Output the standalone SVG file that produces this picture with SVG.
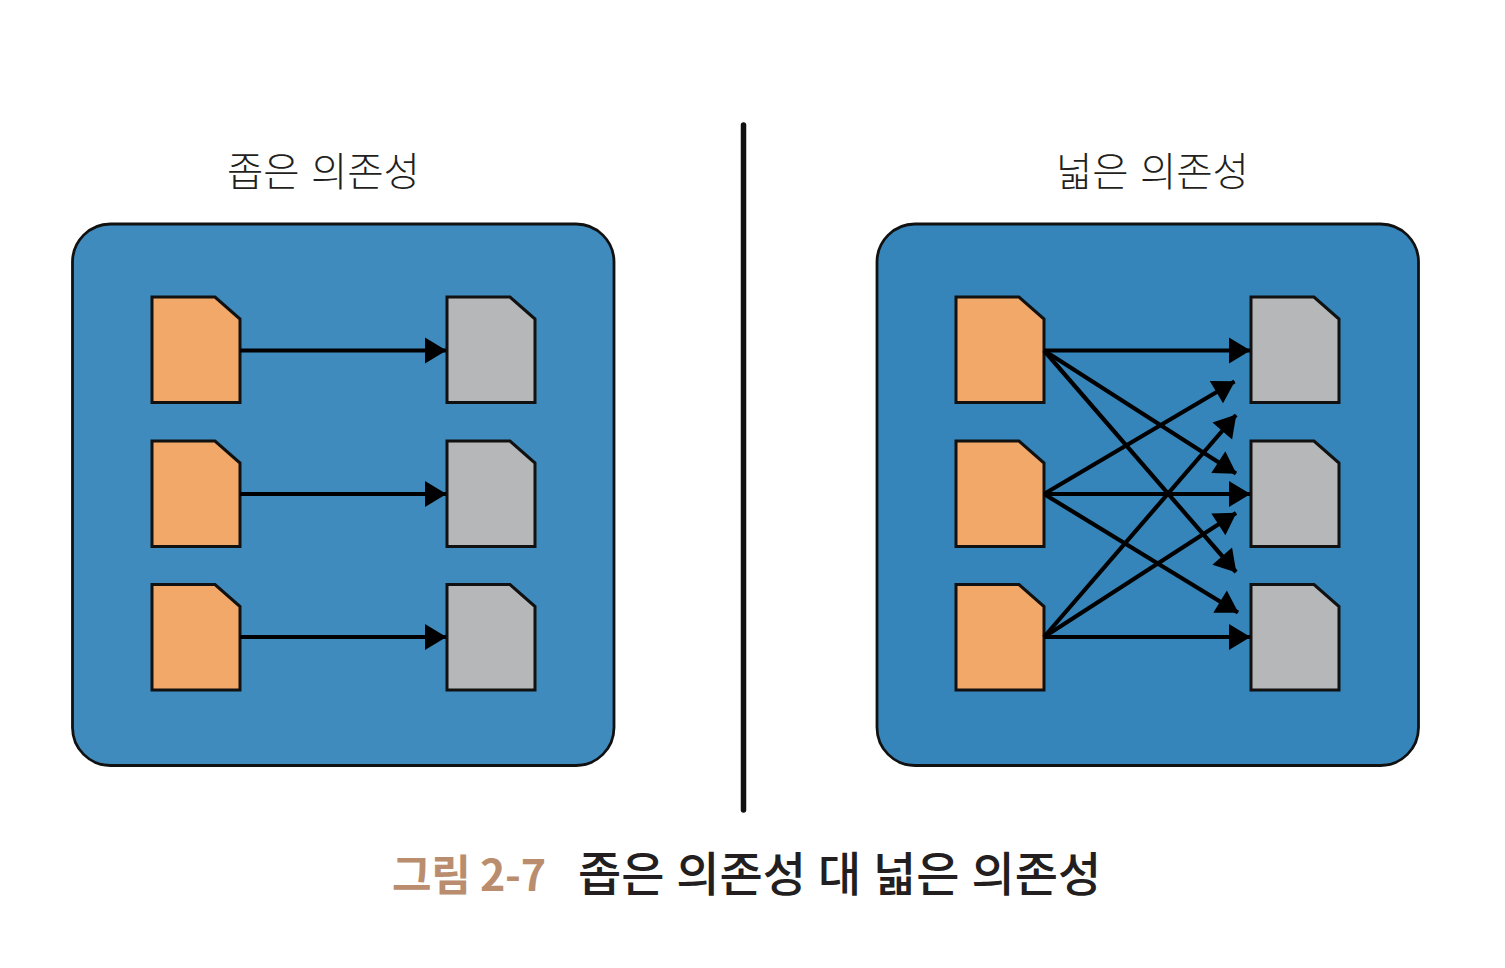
<svg xmlns="http://www.w3.org/2000/svg" width="1505" height="968" viewBox="0 0 1505 968">
<defs>
<marker id="a" markerUnits="userSpaceOnUse" markerWidth="24" markerHeight="28" refX="21" refY="13" orient="auto" overflow="visible"><path d="M0 0L21.500 13L0 26Z" fill="#000"/></marker>
<path id="doc" d="M0 0H63L88 22V105.500H0Z"/>
</defs>
<style>
text{font-family:"Noto Sans CJK KR","Noto Sans",sans-serif}
.h{font-size:39.500px;fill:#231f20;font-weight:300;word-spacing:2.500px}
.p{stroke:#111;stroke-width:2.8}
.o{fill:#f2a868}
.g{fill:#b6b7b9}
.c line{stroke:#000;stroke-width:4.2;marker-end:url(#a)}
.f{stroke:#111;stroke-width:3}
</style>
<rect width="1505" height="968" fill="#fff"/>
<g id="divider"><line x1="743.500" y1="125" x2="743.500" y2="810" stroke="#111" stroke-width="5.500" stroke-linecap="round"/></g>
<g id="title-left"><text class="h" x="323.500" y="186" text-anchor="middle">좁은 의존성</text></g>
<g id="title-right"><text class="h" x="1152.500" y="186" text-anchor="middle">넓은 의존성</text></g>
<g id="panel-left"><rect class="p" x="72.500" y="224" width="541.500" height="541.500" rx="38" fill="#408bbd"/></g>
<g id="panel-right"><rect class="p" x="877" y="224" width="541.500" height="541.500" rx="38" fill="#3685ba"/></g>
<g id="l1"><use href="#doc" x="152" y="297" class="o f"/></g>
<g id="l2"><use href="#doc" x="152" y="441" class="o f"/></g>
<g id="l3"><use href="#doc" x="152" y="584.500" class="o f"/></g>
<g id="l4"><use href="#doc" x="447" y="297" class="g f"/></g>
<g id="l5"><use href="#doc" x="447" y="441" class="g f"/></g>
<g id="l6"><use href="#doc" x="447" y="584.500" class="g f"/></g>
<g id="r1"><use href="#doc" x="956" y="297" class="o f"/></g>
<g id="r2"><use href="#doc" x="956" y="441" class="o f"/></g>
<g id="r3"><use href="#doc" x="956" y="584.500" class="o f"/></g>
<g id="r4"><use href="#doc" x="1251" y="297" class="g f"/></g>
<g id="r5"><use href="#doc" x="1251" y="441" class="g f"/></g>
<g id="r6"><use href="#doc" x="1251" y="584.500" class="g f"/></g>
<g id="connectors" class="c">
<line x1="240" y1="350.500" x2="446" y2="350.500"/>
<line x1="240" y1="494" x2="446" y2="494"/>
<line x1="240" y1="637" x2="446" y2="637"/>
<line x1="1044" y1="350.500" x2="1250" y2="350.500"/>
<line x1="1044" y1="494" x2="1250" y2="494"/>
<line x1="1044" y1="637" x2="1250" y2="637"/>
<line x1="1044" y1="350.500" x2="1236" y2="473.500"/>
<line x1="1044" y1="350.500" x2="1236" y2="572"/>
<line x1="1044" y1="494" x2="1234.500" y2="381.500"/>
<line x1="1044" y1="494" x2="1238" y2="612.500"/>
<line x1="1044" y1="637" x2="1236" y2="415"/>
<line x1="1044" y1="637" x2="1236" y2="513"/>
</g>
<g id="caption"><text x="392" y="891" font-size="43" font-weight="700" fill="#b98d6e" letter-spacing="-0.300">그림 2-7</text><text x="578" y="891" font-size="47" font-weight="500" fill="#231f20" word-spacing="1.300px">좁은 의존성 대 넓은 의존성</text></g>
</svg>
